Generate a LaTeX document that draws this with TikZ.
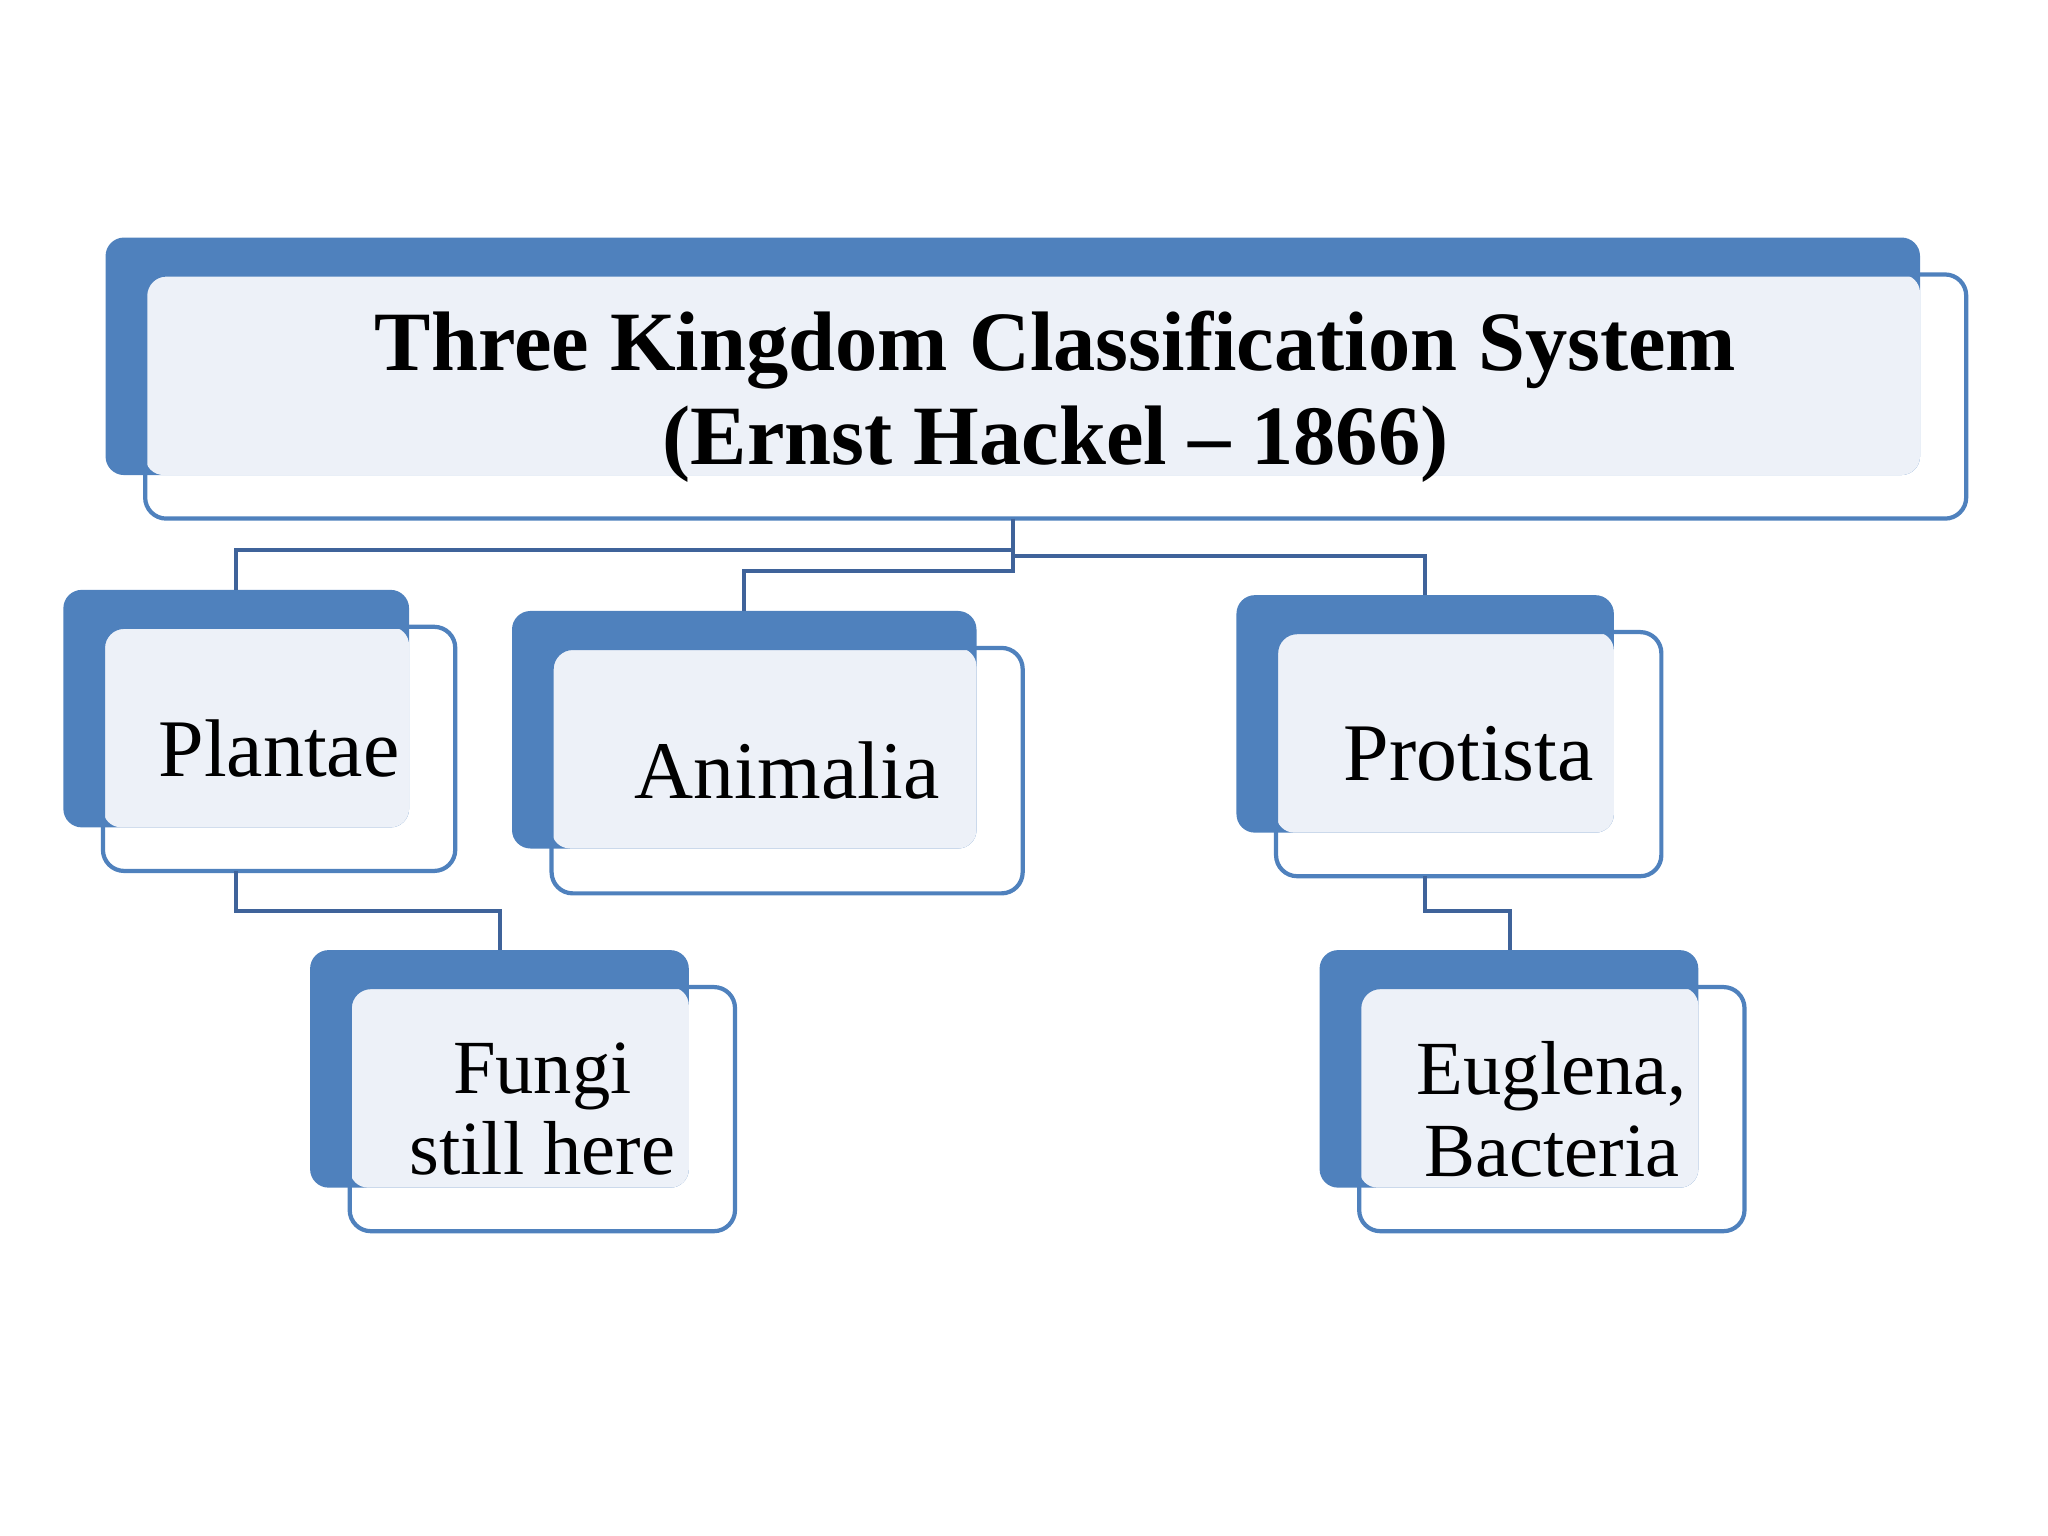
\documentclass[tikz,border=0pt]{standalone}
\usepackage{fontspec}
\setmainfont{Liberation Serif}
\definecolor{bb}{HTML}{4F81BD}
\definecolor{lt}{HTML}{EDF1F8}
\definecolor{ln}{HTML}{3F639A}
\begin{document}
\begin{tikzpicture}[x=1pt,y=-1pt,
  back/.style={fill=bb,rounded corners=14pt},
  inner/.style={fill=lt,rounded corners=14pt},
  front/.style={draw=bb,line width=3.2pt,rounded corners=16pt},
  conn/.style={draw=ln,line width=3pt},
  lbl/.style={align=center,inner sep=0pt}]
\useasboundingbox (0,0) rectangle (1552,1164);
\newcommand\kbox[9]{% name, back x1,y1,x2,y2, front x2,y2, text, font
  \fill[back] (#2,#3) rectangle (#4,#5);
  \fill[inner] (#2+30,#3+28) rectangle (#4,#5);
  \draw[front] (#2+30,#3+28) rectangle (#6,#7);
  \coordinate (#1-top) at ({(#2+#6)/2},#3);
  \node[lbl,font=#9] (#1) at ({(#2+30+#6)/2},{(#3+28+#7)/2}) {#8};
}
\kbox{t}{80}{180}{1455}{360}{1490}{393}{\textbf{Three Kingdom Classification System}\\\textbf{(Ernst Hackel – 1866)}}{\fontsize{64}{71}\selectfont}
\kbox{p}{48}{447}{310}{627}{345}{660}{Plantae}{\fontsize{62}{70}\selectfont}
\kbox{a}{388}{463}{740}{643}{775}{677}{Animalia}{\fontsize{62}{70}\selectfont}
\kbox{r}{937}{451}{1223}{631}{1259}{664}{Protista}{\fontsize{62}{70}\selectfont}
\kbox{f}{235}{720}{522}{900}{557}{933}{Fungi\\still here}{\fontsize{58}{62}\selectfont}
\kbox{e}{1000}{720}{1287}{900}{1322}{933}{Euglena,\\Bacteria}{\fontsize{58}{62}\selectfont}
\coordinate (tb) at (768,393);
\coordinate (pb) at (179,660);
\coordinate (rb) at (1080,664);
\draw[conn] (tb) -- (768,433) -- (564,433) -- (564,463);
\draw[conn] (768,417) -- (179,417) -- (179,447);
\draw[conn] (768,421) -- (1080,421) -- (1080,451);
\draw[conn] (pb) -- (179,690) -- (379,690) -- (379,720);
\draw[conn] (rb) -- (1080,690) -- (1144,690) -- (1144,720);
\end{tikzpicture}
\end{document}
